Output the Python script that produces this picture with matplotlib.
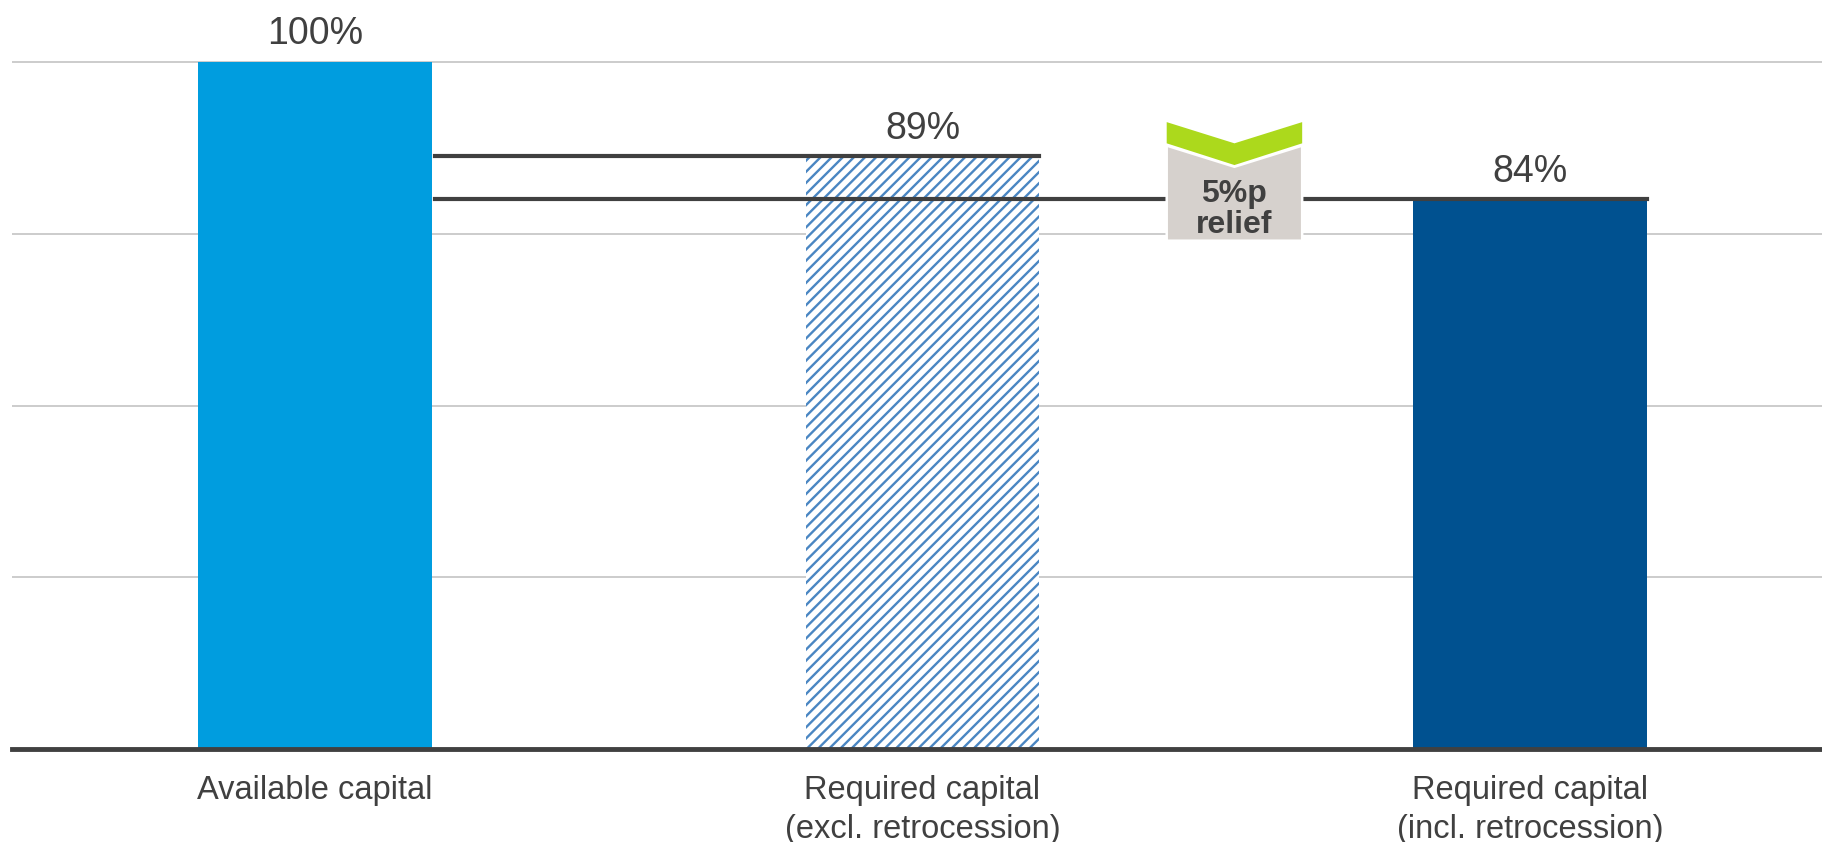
import matplotlib
matplotlib.use("Agg")
import matplotlib.pyplot as plt
from matplotlib.patches import Polygon

plt.rcParams['font.family'] = ['Liberation Sans', 'DejaVu Sans']
plt.rcParams['hatch.linewidth'] = 1.7

categories = ["Available capital",
              "Required capital\n(excl. retrocession)",
              "Required capital\n(incl. retrocession)"]
values = [100, 89, 84]
value_labels = ["100%", "89%", "84%"]
relief_label = "5%p\nrelief"

DARK = "#404040"
BAR_W = 0.385

fig = plt.figure(figsize=(18.22, 8.42), dpi=100)
ax = fig.add_axes([12 / 1822, 93 / 842, 1810 / 1822, 749 / 842])
ax.set_xlim(-0.4988, 2.4807)
ax.set_ylim(20, 107.22)

# light gridlines, dark baseline
for g in [40, 60, 80, 100]:
    ax.axhline(g, color="#c8c8c8", lw=1.3, zorder=0)
ax.axhline(20, color=DARK, lw=3.5, zorder=5, clip_on=False)

x = list(range(len(values)))
ax.bar(x[0], values[0], width=BAR_W, color="#009ddf", zorder=2)
ax.bar(x[1], values[1], width=BAR_W, color="white", edgecolor="#4a86c2",
       hatch="///", linewidth=0, zorder=2)
ax.bar(x[2], values[2], width=BAR_W, color="#005190", zorder=2)

for xi, v, lab in zip(x, values, value_labels):
    ax.annotate(lab, (xi, v), xytext=(0, 7), textcoords="offset points",
                ha="center", va="bottom", fontsize=27, color=DARK,
                annotation_clip=False)

# reference lines from available capital to each requirement
left = x[0] + BAR_W / 2 + 0.005
ax.plot([left, x[1] + BAR_W / 2], [values[1]] * 2, color=DARK, lw=3, zorder=3)
ax.plot([left, x[2] + BAR_W / 2], [values[2]] * 2, color=DARK, lw=3, zorder=3)

# relief marker: green chevron above a grey box
bx0, bx1 = 1.402, 1.625
bxc = (bx0 + bx1) / 2
chevron = Polygon([(bx0, 93.0), (bxc, 90.53), (bx1, 93.0), (bx1, 90.53),
                   (bxc, 88.0), (bx0, 90.53)], closed=True,
                  facecolor="#acd91c", edgecolor="none", zorder=6)
box = Polygon([(bx0, 90.26), (bxc, 87.8), (bx1, 90.26), (bx1, 79.19),
               (bx0, 79.19)], closed=True, facecolor="#d6d1cd",
              edgecolor="white", lw=1.8, zorder=6)
ax.add_patch(box)
ax.add_patch(chevron)
ax.text(bxc, 82.8, relief_label, ha="center", va="center", fontsize=23,
        fontweight="bold", color=DARK, linespacing=1.05, zorder=7)

ax.set_xticks(x)
ax.set_xticklabels(categories, fontsize=23.5, color=DARK, linespacing=1.3)
ax.tick_params(axis="x", length=0, pad=19)
ax.set_yticks([])
for s in ax.spines.values():
    s.set_visible(False)

fig.savefig("out.png", dpi=100)
